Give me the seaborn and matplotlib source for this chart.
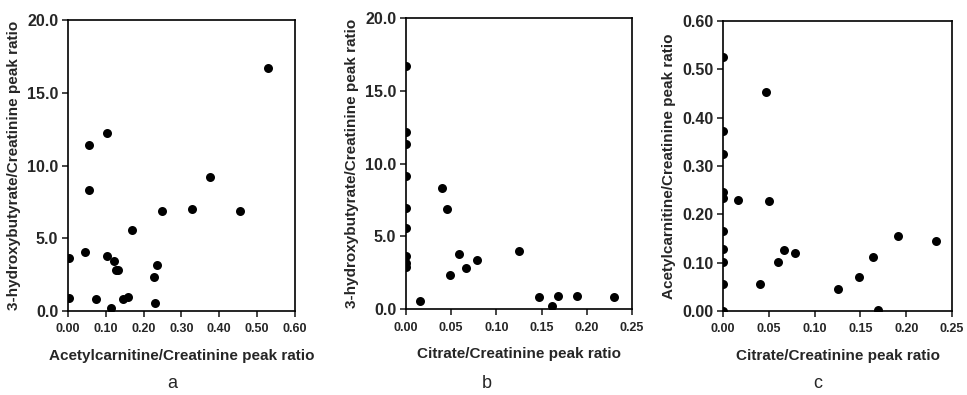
import pandas as pd
import matplotlib
matplotlib.use("Agg")
import matplotlib.pyplot as plt
import seaborn as sns
from matplotlib.ticker import FormatStrFormatter

# -----------------------
# DATOS
# -----------------------
# Panel a: acetylcarnitine vs 3-hydroxybutyrate
a_acetyl = [0.003, 0.003, 0.045, 0.056, 0.056, 0.073, 0.103, 0.103, 0.114, 0.121,
            0.126, 0.131, 0.145, 0.159, 0.168, 0.228, 0.231, 0.236, 0.249, 0.327,
            0.376, 0.456, 0.529]
a_hbut = [3.65, 0.92, 4.06, 11.4, 8.35, 0.80, 12.22, 3.78, 0.18, 3.42,
          2.84, 2.82, 0.85, 0.96, 5.6, 2.32, 0.53, 3.14, 6.9, 7.0,
          9.22, 6.9, 16.74]

# Panel b: citrate vs 3-hydroxybutyrate
b_citrate = [0.0, 0.0, 0.0, 0.0, 0.0, 0.0, 0.0, 0.0, 0.0,
             0.0156, 0.040, 0.045, 0.049, 0.0585, 0.066, 0.078, 0.125,
             0.147, 0.161, 0.168, 0.189, 0.230]
b_hbut = [16.67, 12.2, 11.35, 9.13, 6.92, 5.55, 3.63, 3.13, 2.9,
          0.53, 8.29, 6.85, 2.33, 3.77, 2.83, 3.38, 4.02,
          0.80, 0.20, 0.89, 0.91, 0.84]

# Panel c: citrate vs acetylcarnitine
c_citrate = [0.0, 0.0, 0.0, 0.0, 0.0, 0.0, 0.0, 0.0, 0.0, 0.0,
             0.0168, 0.0405, 0.0464, 0.0504, 0.0595, 0.067, 0.079, 0.126,
             0.148, 0.1635, 0.169, 0.1905, 0.2325]
c_acetyl = [0.525, 0.373, 0.324, 0.247, 0.234, 0.166, 0.129, 0.102, 0.056, 0.001,
            0.230, 0.056, 0.453, 0.227, 0.102, 0.127, 0.120, 0.045,
            0.0705, 0.112, 0.003, 0.156, 0.144]

panels = [
    (a_acetyl, a_hbut, "Acetylcarnitine/Creatinine peak ratio",
     "3-hydroxybutyrate/Creatinine peak ratio", (0, 0.6), [0, 0.1, 0.2, 0.3, 0.4, 0.5, 0.6],
     (0, 20), [0, 5, 10, 15, 20], "%.1f", "a"),
    (b_citrate, b_hbut, "Citrate/Creatinine peak ratio",
     "3-hydroxybutyrate/Creatinine peak ratio", (0, 0.25), [0, 0.05, 0.1, 0.15, 0.2, 0.25],
     (0, 20), [0, 5, 10, 15, 20], "%.1f", "b"),
    (c_citrate, c_acetyl, "Citrate/Creatinine peak ratio",
     "Acetylcarnitine/Creatinine peak ratio", (0, 0.25), [0, 0.05, 0.1, 0.15, 0.2, 0.25],
     (0, 0.6), [0, 0.1, 0.2, 0.3, 0.4, 0.5, 0.6], "%.2f", "c"),
]

# -----------------------
# ESTILO
# -----------------------
sns.set_style("ticks")
plt.rcParams["font.family"] = ["Liberation Sans", "DejaVu Sans"]

fig = plt.figure(figsize=(9.67, 3.95), dpi=100)
boxes = [
    [0.0703, 0.2127, 0.2347, 0.7363],
    [0.4199, 0.2177, 0.2337, 0.7367],
    [0.7477, 0.2127, 0.2368, 0.7342],
]
letter_x = [0.178, 0.503, 0.846]

for (x, y, xl, yl, xlim, xt, ylim, yt, yfmt, letter), box, lx in zip(panels, boxes, letter_x):
    ax = fig.add_axes(box)
    df = pd.DataFrame({"x": x, "y": y})
    sns.scatterplot(data=df, x="x", y="y", ax=ax, color="black", s=42,
                    edgecolor="black", linewidth=0, clip_on=True)
    ax.set_xlim(*xlim)
    ax.set_ylim(*ylim)
    ax.set_xticks(xt)
    ax.set_yticks(yt)
    ax.xaxis.set_major_formatter(FormatStrFormatter("%.2f"))
    ax.yaxis.set_major_formatter(FormatStrFormatter(yfmt))
    ax.set_xlabel(xl, fontsize=11, fontweight="bold", labelpad=10)
    ax.set_ylabel(yl, fontsize=11, fontweight="bold", labelpad=4)
    ax.tick_params(axis="both", direction="out", length=4, width=1.2,
                   top=False, right=False, pad=3)
    ax.tick_params(axis="x", labelsize=9, pad=5)
    ax.tick_params(axis="y", labelsize=11.5)
    for t in ax.get_xticklabels() + ax.get_yticklabels():
        t.set_fontweight("bold")
    for sp in ax.spines.values():
        sp.set_linewidth(1.2)
        sp.set_color("black")
    fig.text(lx, 0.018, letter, fontsize=13, ha="center")

plt.savefig("out.png", dpi=100)
